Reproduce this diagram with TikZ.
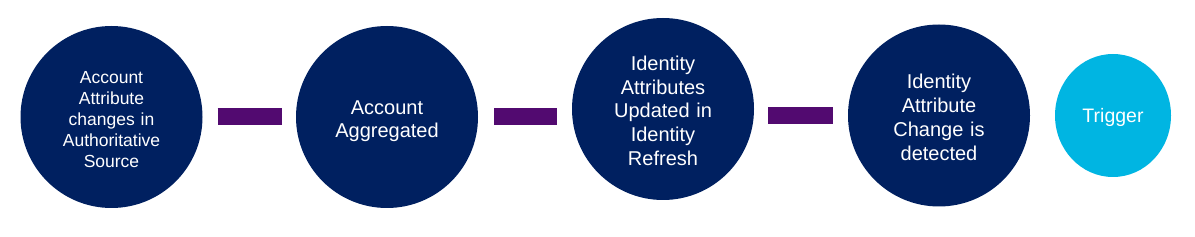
\documentclass[tikz,border=0pt]{standalone}
\usepackage{fontspec}
\setmainfont{Liberation Sans}
\usepackage{tikz}
\usetikzlibrary{shapes.geometric,positioning,calc}
\definecolor{stepnavy}{RGB}{0,32,96}
\definecolor{steppurple}{RGB}{82,10,112}
\definecolor{stepcyan}{RGB}{0,181,226}
\tikzset{
    textstrut/.style n args={2}{execute at begin node={\rule{0pt}{#1}}, execute at end node={\rule[-#2]{0pt}{0pt}}},
    stage/.style={circle, fill=stepnavy, text=white, inner sep=0pt, minimum size=182pt, text width=125pt, align=center, font=\fontsize{20}{23.8}\selectfont, textstrut={22pt}{4pt}},
    final/.style={ellipse, fill=stepcyan, text=white, inner sep=0pt, minimum width=116pt, minimum height=123pt, align=center, font=\fontsize{19.5}{23}\selectfont, textstrut={19pt}{4pt}},
    bar/.style={line width=17pt, steppurple},
}

\begin{document}
\begin{tikzpicture}[x=1pt, y=-1pt]
    \useasboundingbox (0,0) rectangle (1195,237);
    % Stages
    \node[stage, font=\fontsize{17.5}{21}\selectfont] (src) at (111.5,117) {Account\\Attribute\\changes in\\Authoritative\\Source};
    \node[stage] (agg) at (387,117) {Account\\Aggregated};
    \node[stage] (refresh) at (663,109) {Identity\\Attributes\\Updated in\\Identity\\Refresh};
    \node[stage] (detect) at (939,115.5) {Identity\\Attribute\\Change is\\detected};
    \node[final] (trig) at (1113,115.5) {Trigger};

    % Bars between stages
    \draw[bar] ([xshift=15pt]src.east) -- ([xshift=-14pt]agg.west);
    \draw[bar] ([xshift=16pt]agg.east) -- ([xshift=-15pt]agg.east -| refresh.west);
    \draw[bar] ([xshift=14pt]detect.west -| refresh.east) -- ([xshift=-15pt]detect.west);
\end{tikzpicture}
\end{document}
